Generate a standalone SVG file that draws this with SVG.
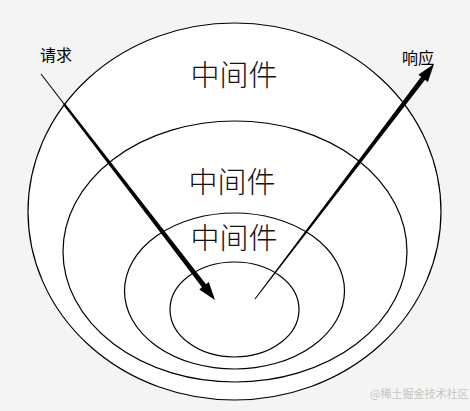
<svg xmlns="http://www.w3.org/2000/svg" width="470" height="411" viewBox="0 0 470 411">
<style>
.ring{fill:none;stroke:#000;stroke-width:1.2}
.big{font-family:"Noto Sans CJK SC","Noto Sans CJK JP",sans-serif;font-size:29px;fill:#111;text-anchor:middle;font-weight:300}
.lab{font-family:"Noto Sans CJK SC","Noto Sans CJK JP",sans-serif;font-size:16px;fill:#000}
.wm{font-family:"Noto Sans CJK SC","Noto Sans CJK JP",sans-serif;font-size:11px;fill:#c4c4c4}
.arr{fill:#000;stroke:none}
</style>
<rect width="470" height="411" fill="#f4f4f4"/>
<g id="outer">
<ellipse cx="234.5" cy="211.5" rx="206.5" ry="188.5" fill="#fff" stroke="none"/>
<ellipse class="ring" cx="234.5" cy="211.5" rx="206.5" ry="188.5"/>
<text class="big" x="234" y="86">中间件</text>
</g>
<g id="second">
<ellipse class="ring" cx="235" cy="251.5" rx="172" ry="130.5"/>
<text class="big" x="232" y="193">中间件</text>
</g>
<g id="third">
<ellipse class="ring" cx="234.5" cy="291" rx="110" ry="78"/>
<text class="big" x="234" y="249">中间件</text>
</g>
<g id="inner">
<ellipse class="ring" cx="234.5" cy="309.5" rx="64.5" ry="47.5"/>
</g>
<g id="label-request"><text class="lab" x="40" y="61">请求</text></g>
<g id="label-response"><text class="lab" x="402" y="64">响应</text></g>
<g id="connectors">
<line x1="41" y1="74" x2="64.5" y2="104.5" stroke="#000" stroke-width="1.1"/>
<polygon class="arr" points="63.1,104.7 202.0,287.2 199.3,289.4 215,300 208.8,282.0 206.0,284.2 64.9,103.3"/>
<polygon class="arr" points="254.6,298.7 421.1,76.8 418.3,74.7 434,64 427.9,81.9 425.1,79.8 255.4,299.3"/>
</g>
<text class="wm" x="370" y="398">@稀土掘金技术社区</text>
</svg>
